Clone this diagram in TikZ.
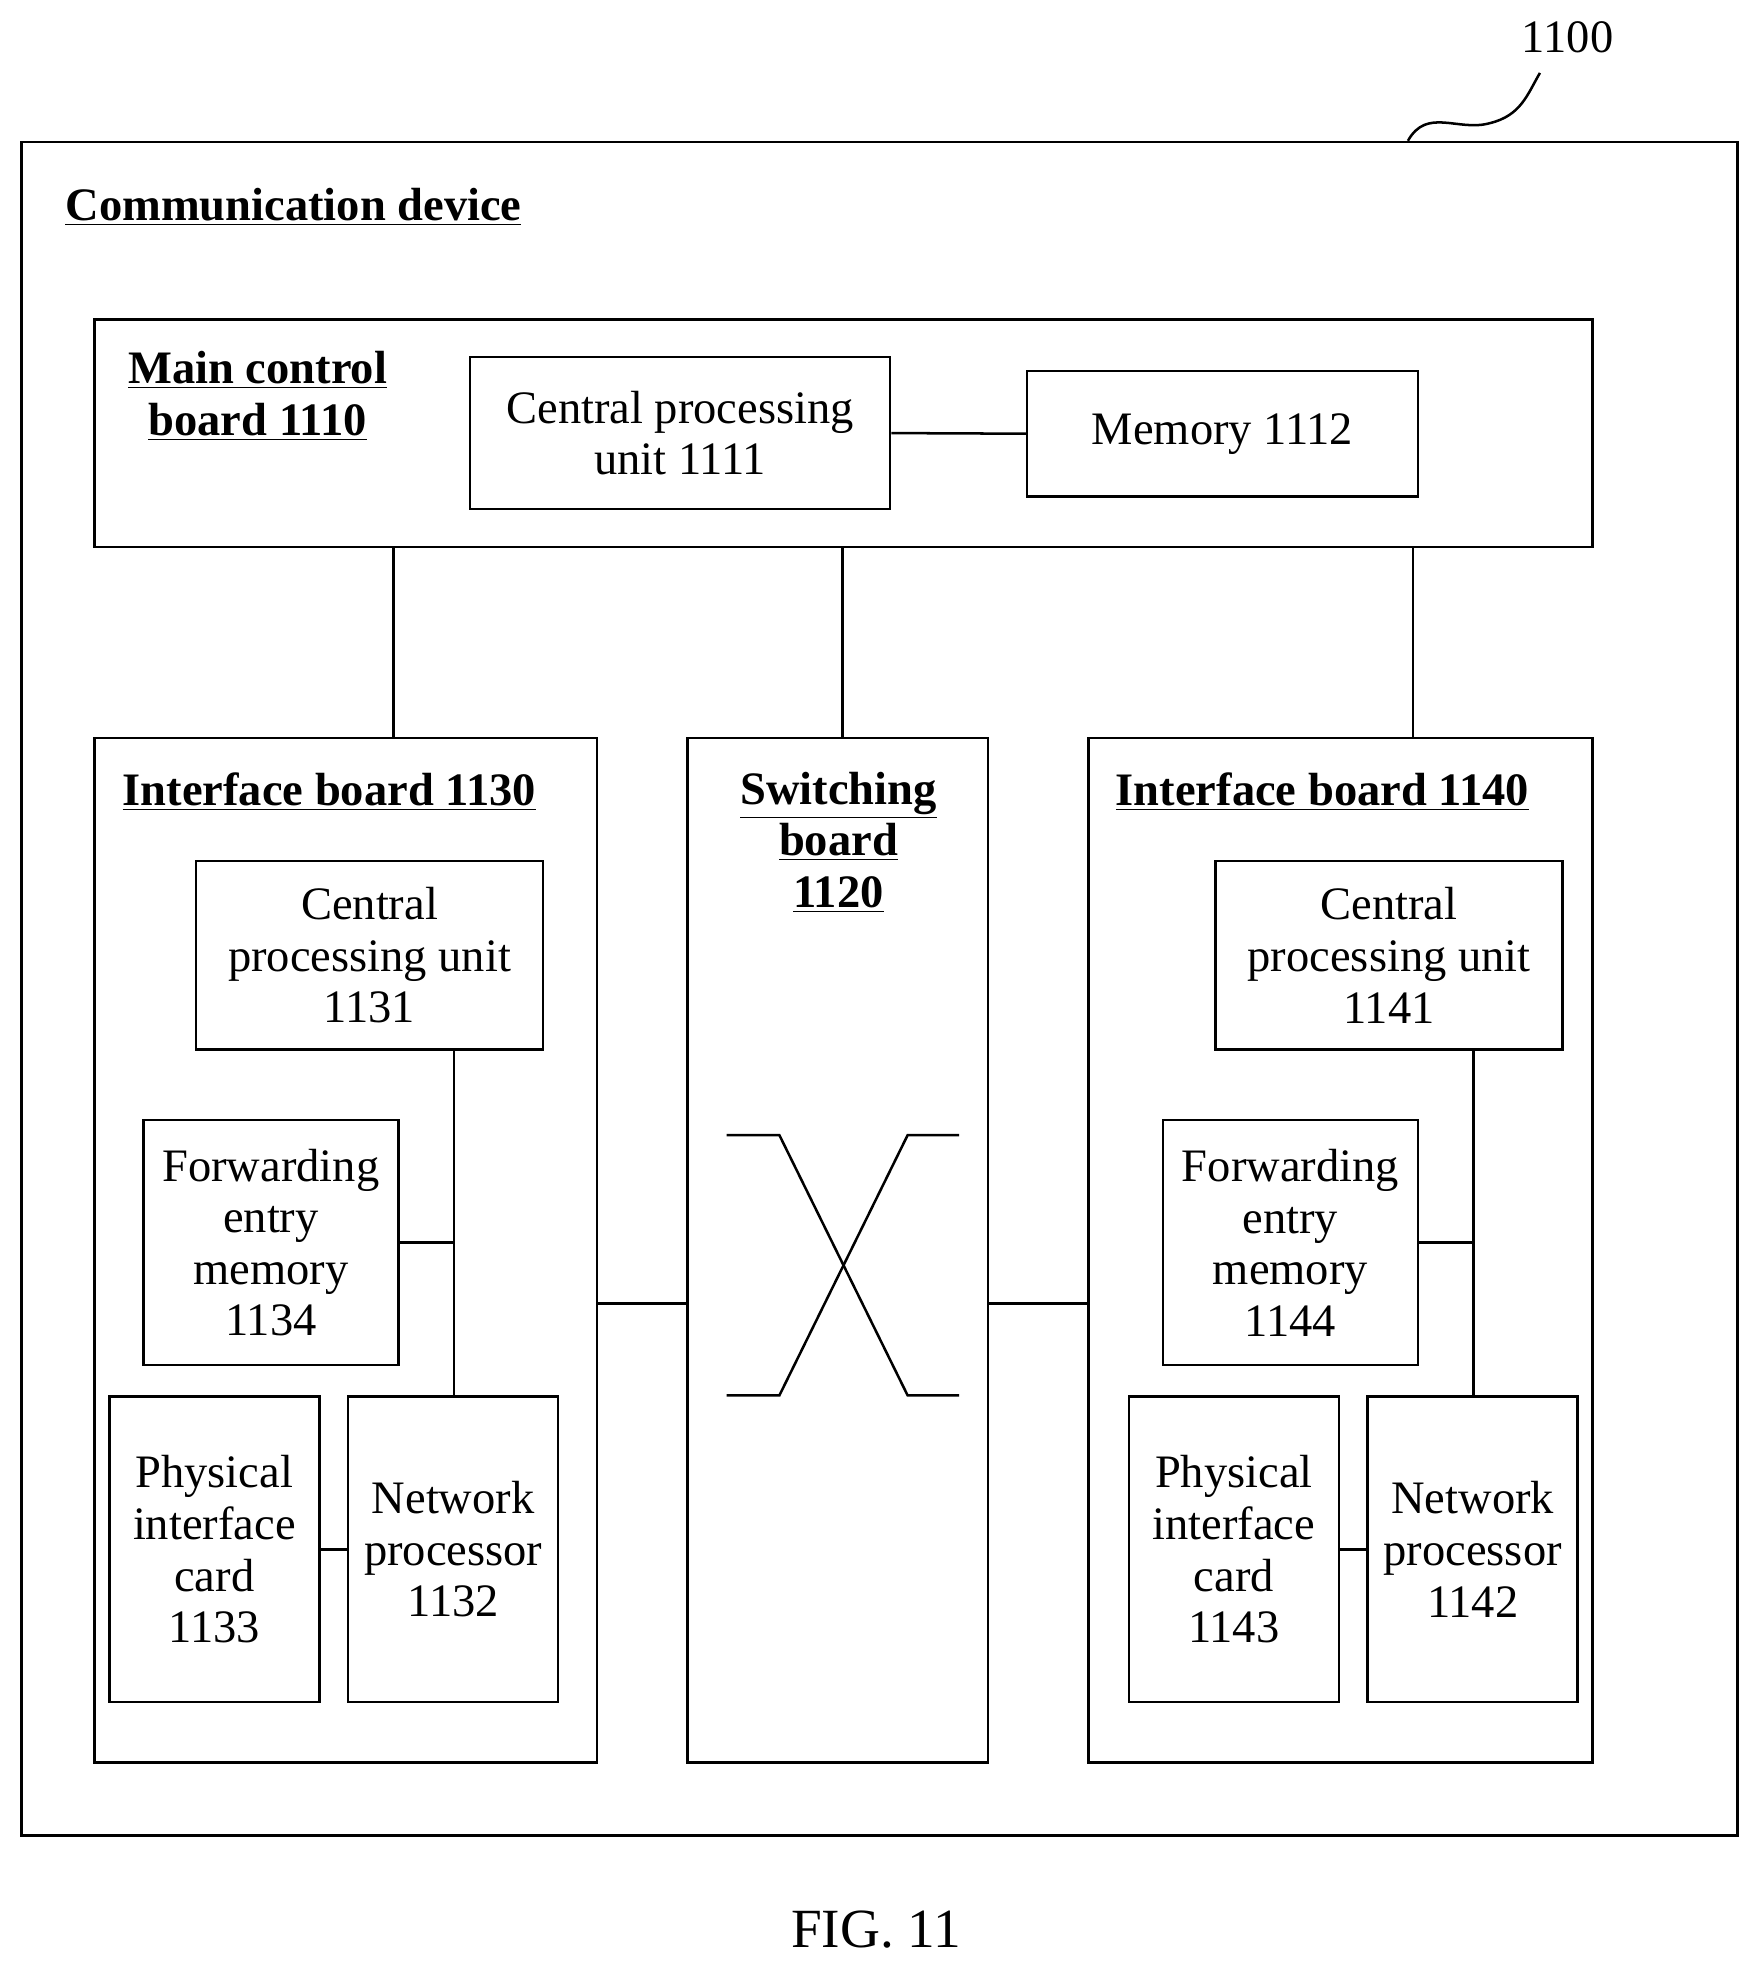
\documentclass[tikz,border=0pt]{standalone}
\usepackage{fontspec}
\setmainfont{Liberation Serif}
\begin{document}
\begin{tikzpicture}[x=0.5pt,y=-0.5pt,
  box/.style={draw,line width=1pt,inner sep=0pt,align=center,font=\fontsize{18.5}{20.5}\selectfont},
  lbl/.style={align=center,font=\fontsize{18.5}{20.5}\selectfont\bfseries},
  ln/.style={line width=1pt}]
\useasboundingbox (0,0) rectangle (1400,1569.5);
\newcommand\bx[6]{\node[box,minimum width={((#4)-(#2))*0.5pt},minimum height={((#5)-(#3))*0.5pt}] (#1) at ({((#2)+(#4))/2},{((#3)+(#5))/2}) {#6};}
\bx{dev}{17}{113}{1382}{1460}{}
\node[font=\fontsize{18.5}{20}\selectfont] (num) at (1247,30) {1100};
\draw[ln] (1120,112) .. controls (1135,85) and (1160,105) .. (1185,98) .. controls (1210,92) and (1215,75) .. (1225,58);
\node[lbl,anchor=west] (cd) at (45,165) {\underline{Communication device}};
\bx{main}{75}{254}{1267}{435}{}
\node[lbl] (mainl) at (205,315) {\underline{Main control}\\\underline{board 1110}};
\bx{cpu}{374}{284}{708}{405}{Central processing\\unit 1111}
\bx{mem}{817}{295}{1128}{395}{Memory 1112}
\draw[ln] (cpu.east) -- (mem.west);
\bx{ib1}{75}{587}{475}{1402}{}
\bx{sw}{547}{587}{786}{1402}{}
\bx{ib2}{866}{587}{1267}{1402}{}
\draw[ln] (main.south -| 313,0) -- (ib1.north -| 313,0);
\draw[ln] (main.south -| 670,0) -- (sw.north -| 670,0);
\draw[ln] (main.south -| 1124,0) -- (ib2.north -| 1124,0);
\node[lbl] (ib1l) at (262,630) {\underline{Interface board 1130}};
\node[lbl] (ib2l) at (1052,630) {\underline{Interface board 1140}};
\node[lbl] (swl) at (667,670) {\underline{Switching}\\\underline{board}\\\underline{1120}};
\draw[ln] (578,903) -- (620,903) -- (722,1110) -- (763,1110);
\draw[ln] (578,1110) -- (620,1110) -- (722,903) -- (763,903);
\draw[ln] (ib1.east |- 0,1037) -- (sw.west |- 0,1037);
\draw[ln] (sw.east |- 0,1037) -- (ib2.west |- 0,1037);
\foreach \o/\a/\b/\c/\d in {0/1131/1134/1133/1132, 811/1141/1144/1143/1142}{
  \bx{c\a}{156+\o}{685}{432+\o}{835}{Central\\processing unit\\\a}
  \bx{f\b}{114+\o}{891}{317+\o}{1086}{Forwarding\\entry\\memory\\\b}
  \bx{p\c}{87+\o}{1111}{254+\o}{1354}{Physical\\interface\\card\\\c}
  \bx{n\d}{277+\o}{1111}{444+\o}{1354}{Network\\processor\\\d}
  \draw[ln] (c\a.south -| {361+\o},0) -- (n\d.north -| {361+\o},0);
  \draw[ln] (f\b.east) -- (f\b.east -| {361+\o},0);
  \draw[ln] (p\c.east) -- (n\d.west);
}
\node[font=\fontsize{22}{24}\selectfont] (fig) at (697,1535) {FIG. 11};
\end{tikzpicture}
\end{document}
